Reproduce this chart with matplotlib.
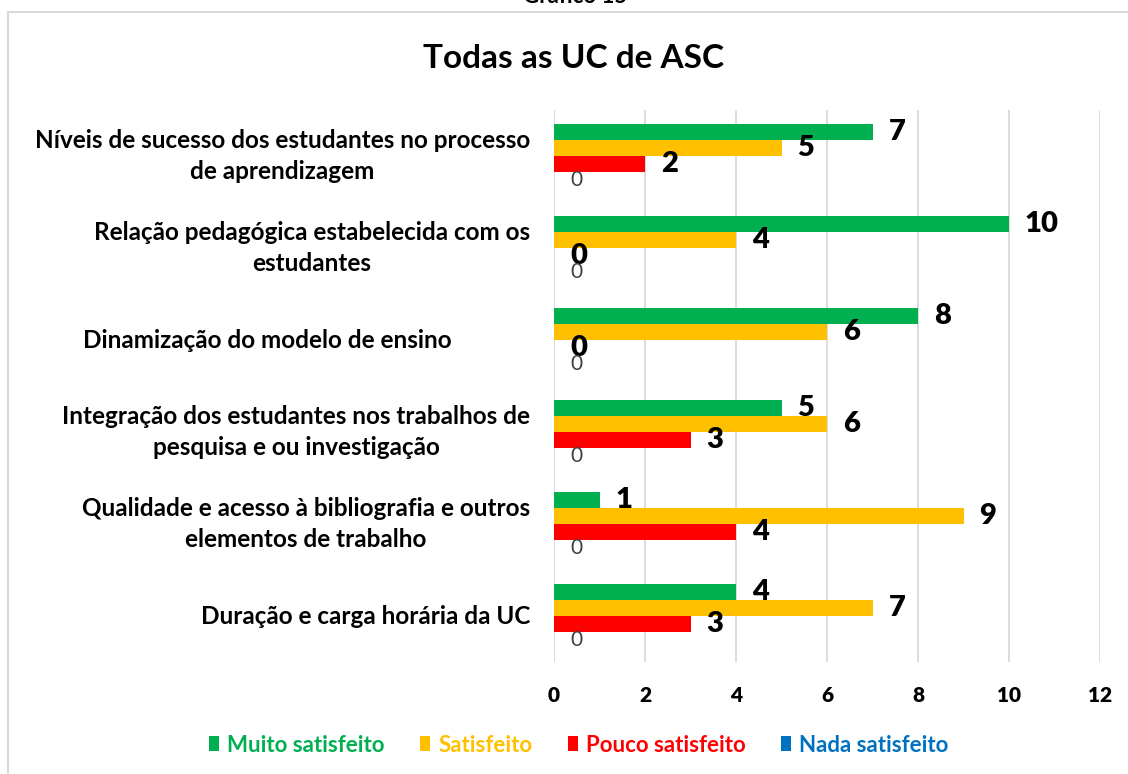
import matplotlib
matplotlib.use("Agg")
import matplotlib.pyplot as plt
from matplotlib.patches import Rectangle, Patch
from matplotlib.transforms import offset_copy
import numpy as np

# ---------------- data ----------------
categories = [
    "Níveis de sucesso dos estudantes no processo\nde aprendizagem",
    "Relação pedagógica estabelecida com os\nestudantes",
    "Dinamização do modelo de ensino",
    "Integração dos estudantes nos trabalhos de\npesquisa e ou investigação",
    "Qualidade e acesso à bibliografia e outros\nelementos de trabalho",
    "Duração e carga horária da UC",
]
muito_satisfeito = [7, 10, 8, 5, 1, 4]
satisfeito = [5, 4, 6, 6, 9, 7]
pouco_satisfeito = [2, 0, 0, 3, 4, 3]
nada_satisfeito = [0, 0, 0, 0, 0, 0]
series_names = ["Muito satisfeito", "Satisfeito", "Pouco satisfeito", "Nada satisfeito"]
x_ticks = [0, 2, 4, 6, 8, 10, 12]
title = "Todas as UC de ASC"
header = "Gráfico 15"

# ---------------- style ----------------
colors = ["#00B050", "#FFC000", "#FF0000", "#0070C0"]
FONT = ["Lato", "DejaVu Sans"]
plt.rcParams["font.family"] = FONT

W, H = 1128, 774
fig = plt.figure(figsize=(W / 100, H / 100), dpi=100)

# outer chart frame (cut at right/bottom edges)
fig.patches.append(Rectangle((8 / W, -0.05), 1.2, 0.05 + 1 - 12 / H,
                             transform=fig.transFigure, fill=False,
                             edgecolor="#d9d9d9", lw=1.5, zorder=0))
# header text cut off at top
fig.text(575 / W, 1 - 3 / H, header, ha="center", va="baseline",
         fontsize=16, fontweight="bold", color="black")

fig.text(574 / W, 1 - 58 / H, title, ha="center", va="center",
         fontsize=24, fontweight="bold", color="black")

ax = fig.add_axes([554 / W, 1 - 662 / H, 546 / W, 552 / H])
ax.set_xlim(0, 12)
ax.set_ylim(len(categories) - 0.5, -0.5)

series = [muito_satisfeito, satisfeito, pouco_satisfeito, nada_satisfeito]
h = 16 / 92
y = np.arange(len(categories))
for k, (vals, col) in enumerate(zip(series, colors)):
    pos = y + (k - 1.5) * h
    ax.barh(pos, vals, height=h, color=col, zorder=2)
    for p, v in zip(pos, vals):
        tr = offset_copy(ax.transData, fig=fig, x=16, y=0, units="dots")
        if k == 3:
            ax.text(v, p, f"{v}", transform=tr, ha="left", va="center",
                    fontsize=15, color="#404040", zorder=3)
        else:
            ax.text(v, p, f"{v}", transform=tr, ha="left", va="center",
                    fontsize=21, fontweight="heavy", color="black", zorder=3)

ax.set_xticks(x_ticks)
ax.set_xticklabels([str(t) for t in x_ticks], fontsize=15, fontweight="heavy")
ax.tick_params(axis="x", length=0, pad=17)
ax.set_yticks([])
ax.grid(axis="x", color="#d9d9d9", lw=1.3, zorder=0)
ax.set_axisbelow(True)
for s in ax.spines.values():
    s.set_visible(False)

# category labels
for i, lab in enumerate(categories):
    pad = 102 if lab.startswith("Dinamiza") else 24
    tr = offset_copy(ax.get_yaxis_transform(), fig=fig, x=-pad, y=0, units="dots")
    ax.text(0, i, lab, transform=tr, ha="right", va="center",
            multialignment="center", fontsize=17.5, fontweight="bold",
            linespacing=1.38, color="black")

handles = [Patch(facecolor=c, edgecolor="none") for c in colors]
leg = fig.legend(handles, series_names, loc="center",
                 bbox_to_anchor=(579 / W, 1 - 745 / H), ncol=4, frameon=False,
                 handlelength=0.45, handleheight=0.65, handletextpad=0.36,
                 columnspacing=1.6, prop={"family": FONT, "weight": "bold", "size": 16})
for t, c in zip(leg.get_texts(), colors):
    t.set_color(c)

fig.savefig("out.png", dpi=100)
